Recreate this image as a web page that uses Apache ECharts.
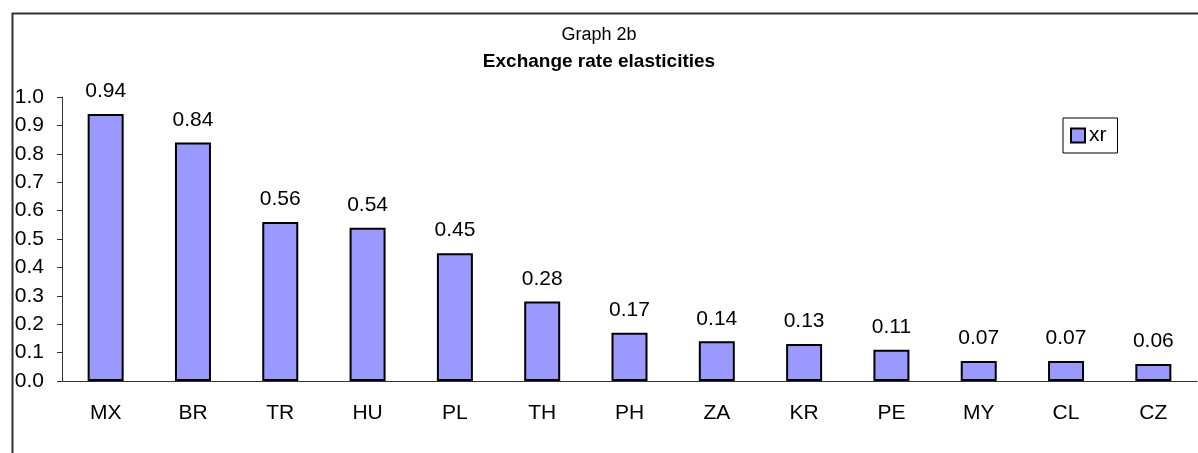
<!DOCTYPE html>
<html>
<head>
<meta charset="utf-8">
<script src="https://cdn.jsdelivr.net/npm/echarts@6/dist/echarts.min.js"></script>
<style>
html,body{margin:0;padding:0;background:#fff;}
#c{width:1198px;height:453px;}
</style>
</head>
<body>
<div id="c"></div>
<script>
const categories = ['MX','BR','TR','HU','PL','TH','PH','ZA','KR','PE','MY','CL','CZ'];
const xrValues = [0.94,0.84,0.56,0.54,0.45,0.28,0.17,0.14,0.13,0.11,0.07,0.07,0.06];
const seriesName = 'xr';
const titleLine1 = 'Graph 2b';
const titleLine2 = 'Exchange rate elasticities';

const FONT = 'Liberation Sans, Arial, sans-serif';
const chart = echarts.init(document.getElementById('c'));
chart.setOption({
  animation: false,
  backgroundColor: '#fff',
  graphic: [{
    type: 'rect', left: 10, top: 11,
    shape: {x: 0, y: 0, width: 1200, height: 460},
    style: {fill: 'none', stroke: '#333', lineWidth: 2},
    z: -1
  }],
  title: [
    {text: titleLine1, left: 'center', top: 21,
     textStyle: {fontFamily: FONT, fontSize: 18, fontWeight: 'normal', color: '#000'}},
    {text: titleLine2, left: 'center', top: 47,
     textStyle: {fontFamily: FONT, fontSize: 19, fontWeight: 'bold', color: '#000'}}
  ],
  legend: {
    data: [seriesName],
    left: 1063, top: 118,
    orient: 'vertical',
    borderColor: '#000', borderWidth: 1,
    padding: [7, 11, 7, 7],
    itemWidth: 14, itemHeight: 14, itemGap: 4,
    icon: 'rect',
    itemStyle: {borderColor: '#000', borderWidth: 2},
    textStyle: {fontFamily: FONT, fontSize: 21, color: '#000', padding: [0,0,0,-1]}
  },
  grid: {left: 62, right: 1, top: 97, bottom: 72, containLabel: false},
  xAxis: {
    type: 'category',
    data: categories,
    axisLine: {lineStyle: {color: '#333', width: 1}},
    axisTick: {length: 6, lineStyle: {color: '#333'}},
    axisLabel: {fontFamily: FONT, fontSize: 21, color: '#000', margin: 22}
  },
  yAxis: {
    type: 'value',
    min: 0, max: 1, interval: 0.1,
    axisLine: {show: true, lineStyle: {color: '#333', width: 1}},
    axisTick: {show: true, length: 5, lineStyle: {color: '#333'}},
    splitLine: {show: false},
    axisLabel: {fontFamily: FONT, fontSize: 21, color: '#000', margin: 18,
      formatter: v => v.toFixed(1)}
  },
  series: [{
    name: seriesName,
    type: 'bar',
    data: xrValues,
    barWidth: 36,
    itemStyle: {color: '#9999FF', borderColor: '#000', borderWidth: 2},
    label: {show: true, position: 'top', distance: 12,
      fontFamily: FONT, fontSize: 21, color: '#000',
      formatter: p => p.value.toFixed(2)}
  }]
});
</script>
</body>
</html>
